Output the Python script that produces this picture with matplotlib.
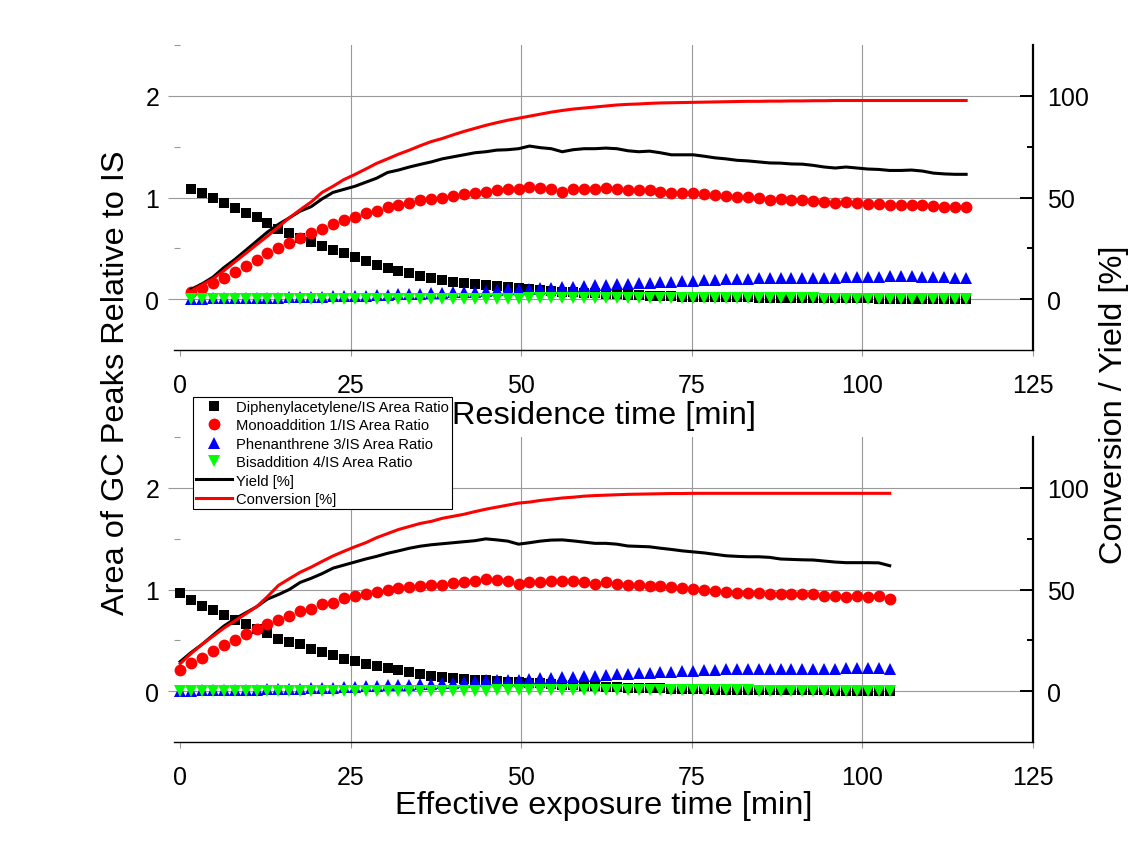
import matplotlib
matplotlib.use("Agg")
import matplotlib.pyplot as plt
from matplotlib.lines import Line2D
from matplotlib.ticker import FixedLocator

plt.rcParams['font.family'] = ['Liberation Sans', 'DejaVu Sans']

# ---------------- residence time series (top) ----------------
t_res = [1.6, 3.2, 4.8, 6.4, 8.0, 9.6, 11.2, 12.8,
         14.4, 16.0, 17.6, 19.2, 20.8, 22.4, 24.0, 25.6,
         27.2, 28.8, 30.4, 32.0, 33.6, 35.2, 36.8, 38.4,
         40.0, 41.6, 43.2, 44.8, 46.4, 48.0, 49.6, 51.2,
         52.8, 54.4, 56.0, 57.6, 59.2, 60.8, 62.4, 64.0,
         65.6, 67.2, 68.8, 70.4, 72.0, 73.6, 75.2, 76.8,
         78.4, 80.0, 81.6, 83.2, 84.8, 86.4, 88.0, 89.6,
         91.2, 92.8, 94.4, 96.0, 97.6, 99.2, 100.8, 102.4,
         104.0, 105.6, 107.2, 108.8, 110.4, 112.0, 113.6, 115.2]

diph_res = [1.08, 1.045, 1.00, 0.95, 0.90, 0.845, 0.805, 0.745,
            0.69, 0.65, 0.60, 0.565, 0.52, 0.48, 0.45, 0.41,
            0.38, 0.335, 0.31, 0.28, 0.255, 0.23, 0.21, 0.19,
            0.17, 0.155, 0.145, 0.135, 0.125, 0.115, 0.11, 0.10,
            0.092, 0.083, 0.073, 0.066, 0.059, 0.056, 0.053, 0.046,
            0.043, 0.04, 0.035, 0.033, 0.03, 0.026, 0.023, 0.023,
            0.02, 0.02, 0.017, 0.017, 0.015, 0.013, 0.012, 0.011,
            0.01, 0.01, 0.009, 0.008, 0.008, 0.007, 0.007, 0.006,
            0.006, 0.005, 0.005, 0.005, 0.004, 0.004, 0.004, 0.003]

mono_res = [0.07, 0.11, 0.16, 0.21, 0.27, 0.33, 0.39, 0.45,
            0.50, 0.555, 0.60, 0.655, 0.69, 0.735, 0.775, 0.81,
            0.845, 0.865, 0.91, 0.93, 0.95, 0.975, 0.985, 0.995,
            1.015, 1.03, 1.045, 1.053, 1.073, 1.083, 1.083, 1.099,
            1.092, 1.086, 1.059, 1.079, 1.086, 1.086, 1.092, 1.086,
            1.069, 1.069, 1.069, 1.059, 1.043, 1.049, 1.040, 1.036,
            1.023, 1.017, 1.007, 1.003, 0.993, 0.98, 0.983, 0.974,
            0.974, 0.964, 0.957, 0.947, 0.954, 0.947, 0.937, 0.937,
            0.924, 0.931, 0.931, 0.931, 0.914, 0.908, 0.904, 0.904]

phen_res = [0.005, 0.006, 0.007, 0.008, 0.01, 0.011, 0.012, 0.014,
            0.016, 0.018, 0.02, 0.022, 0.025, 0.028, 0.03, 0.033,
            0.036, 0.04, 0.043, 0.047, 0.05, 0.054, 0.058, 0.062,
            0.066, 0.07, 0.075, 0.085, 0.093, 0.097, 0.101, 0.104,
            0.105, 0.108, 0.117, 0.123, 0.13, 0.136, 0.14, 0.146,
            0.15, 0.156, 0.162, 0.164, 0.17, 0.174, 0.178, 0.186,
            0.19, 0.194, 0.197, 0.201, 0.204, 0.205, 0.205, 0.208,
            0.208, 0.208, 0.211, 0.211, 0.219, 0.217, 0.22, 0.218,
            0.228, 0.224, 0.223, 0.221, 0.221, 0.218, 0.211, 0.205]

bis_res = [0.0, 0.0, 0.0, 0.0, 0.0, 0.0, 0.0, 0.0,
           0.0, 0.0, 0.0, 0.0, 0.0, 0.0, 0.0, 0.0,
           0.0, 0.0, 0.0, 0.001, 0.001, 0.002, 0.002, 0.003,
           0.003, 0.004, 0.004, 0.005, 0.005, 0.006, 0.006, 0.007,
           0.007, 0.008, 0.008, 0.008, 0.009, 0.009, 0.009, 0.009,
           0.009, 0.009, 0.009, 0.009, 0.009, 0.009, 0.008, 0.008,
           0.008, 0.008, 0.008, 0.008, 0.007, 0.007, 0.007, 0.007,
           0.007, 0.007, 0.006, 0.006, 0.006, 0.006, 0.006, 0.006,
           0.005, 0.005, 0.005, 0.005, 0.005, 0.005, 0.005, 0.005]

yield_res = [4.8, 7.5, 10.8, 15.5, 19.5, 24.0, 28.5, 33.0,
             36.8, 40.0, 43.3, 45.5, 49.3, 52.5, 54.0, 55.5,
             57.5, 59.5, 62.3, 63.5, 65.0, 66.3, 67.5, 69.0,
             70.0, 71.0, 72.0, 72.5, 73.3, 73.5, 74.0, 75.3,
             74.5, 74.0, 72.5, 73.5, 74.0, 74.0, 74.3, 74.0,
             73.0, 72.5, 72.8, 72.0, 71.0, 71.0, 71.0, 70.3,
             69.5, 69.0, 68.3, 68.0, 67.5, 67.0, 66.9, 66.5,
             66.4, 65.8, 65.0, 64.5, 65.0, 64.5, 64.0, 63.8,
             63.3, 63.3, 63.5, 63.0, 62.0, 61.6, 61.4, 61.4]

conv_res = [4.0, 7.0, 10.0, 14.0, 18.3, 22.5, 26.8, 31.0,
            35.5, 40.0, 44.0, 47.8, 52.5, 55.5, 58.8, 61.3,
            64.0, 66.8, 69.0, 71.3, 73.3, 75.5, 77.5, 79.0,
            80.8, 82.5, 84.0, 85.5, 86.8, 88.0, 89.0, 90.0,
            91.0, 92.0, 92.8, 93.5, 94.0, 94.5, 95.0, 95.5,
            95.8, 96.0, 96.3, 96.5, 96.6, 96.7, 96.8, 96.9,
            97.0, 97.1, 97.2, 97.3, 97.3, 97.4, 97.4, 97.5,
            97.5, 97.6, 97.6, 97.7, 97.7, 97.7, 97.7, 97.7,
            97.7, 97.7, 97.7, 97.7, 97.7, 97.7, 97.7, 97.7]

# ---------------- effective exposure time series (bottom) ----------------
t_eff = [0.0, 1.6, 3.2, 4.8, 6.4, 8.0, 9.6, 11.2,
         12.8, 14.4, 16.0, 17.6, 19.2, 20.8, 22.4, 24.0,
         25.6, 27.2, 28.8, 30.4, 32.0, 33.6, 35.2, 36.8,
         38.4, 40.0, 41.6, 43.2, 44.8, 46.4, 48.0, 49.6,
         51.2, 52.8, 54.4, 56.0, 57.6, 59.2, 60.8, 62.4,
         64.0, 65.6, 67.2, 68.8, 70.4, 72.0, 73.6, 75.2,
         76.8, 78.4, 80.0, 81.6, 83.2, 84.8, 86.4, 88.0,
         89.6, 91.2, 92.8, 94.4, 96.0, 97.6, 99.2, 100.8,
         102.4, 104.0]

diph_eff = [0.97, 0.895, 0.84, 0.80, 0.75, 0.70, 0.66, 0.61,
            0.575, 0.51, 0.485, 0.46, 0.41, 0.385, 0.355, 0.32,
            0.30, 0.27, 0.245, 0.23, 0.205, 0.185, 0.17, 0.15,
            0.14, 0.125, 0.115, 0.11, 0.105, 0.10, 0.095, 0.089,
            0.082, 0.076, 0.07, 0.064, 0.058, 0.053, 0.048, 0.044,
            0.04, 0.036, 0.033, 0.03, 0.027, 0.024, 0.022, 0.02,
            0.018, 0.016, 0.015, 0.013, 0.012, 0.011, 0.01, 0.009,
            0.008, 0.008, 0.007, 0.007, 0.006, 0.006, 0.005, 0.005,
            0.005, 0.004]

mono_eff = [0.21, 0.28, 0.33, 0.40, 0.45, 0.50, 0.565, 0.61,
            0.658, 0.697, 0.74, 0.79, 0.81, 0.855, 0.87, 0.92,
            0.938, 0.951, 0.977, 1.0, 1.01, 1.024, 1.035, 1.049,
            1.049, 1.062, 1.076, 1.08, 1.102, 1.092, 1.086, 1.059,
            1.069, 1.076, 1.079, 1.086, 1.082, 1.069, 1.059, 1.069,
            1.056, 1.043, 1.043, 1.036, 1.033, 1.023, 1.01, 1.003,
            1.0, 0.984, 0.977, 0.97, 0.967, 0.967, 0.96, 0.951,
            0.951, 0.954, 0.951, 0.938, 0.938, 0.928, 0.934, 0.931,
            0.934, 0.911]

phen_eff = [0.005, 0.006, 0.007, 0.008, 0.01, 0.012, 0.014, 0.016,
            0.018, 0.02, 0.023, 0.026, 0.029, 0.032, 0.036, 0.04,
            0.044, 0.048, 0.052, 0.056, 0.06, 0.065, 0.07, 0.075,
            0.08, 0.085, 0.09, 0.1, 0.105, 0.105, 0.105, 0.105,
            0.122, 0.128, 0.132, 0.138, 0.141, 0.145, 0.148, 0.161,
            0.171, 0.171, 0.178, 0.181, 0.188, 0.188, 0.194, 0.197,
            0.207, 0.207, 0.214, 0.214, 0.22, 0.22, 0.214, 0.214,
            0.214, 0.22, 0.22, 0.22, 0.22, 0.23, 0.23, 0.23,
            0.23, 0.22]

bis_eff = [0.0, 0.0, 0.0, 0.0, 0.0, 0.0, 0.0, 0.0,
           0.0, 0.0, 0.0, 0.0, 0.0, 0.0, 0.0, 0.0,
           0.0, 0.001, 0.001, 0.002, 0.002, 0.003, 0.003, 0.004,
           0.004, 0.005, 0.005, 0.006, 0.006, 0.007, 0.007, 0.008,
           0.008, 0.008, 0.009, 0.009, 0.009, 0.009, 0.009, 0.009,
           0.009, 0.009, 0.009, 0.008, 0.008, 0.008, 0.008, 0.008,
           0.007, 0.007, 0.007, 0.007, 0.007, 0.006, 0.006, 0.006,
           0.006, 0.006, 0.005, 0.005, 0.005, 0.005, 0.005, 0.005,
           0.005, 0.005]

yield_eff = [14.5, 19.0, 23.0, 27.5, 32.0, 35.5, 38.5, 41.5,
             45.3, 47.5, 50.0, 53.5, 55.5, 57.8, 60.5, 62.0,
             63.5, 65.0, 66.3, 67.8, 69.0, 70.3, 71.3, 72.0,
             72.5, 73.0, 73.5, 74.0, 74.9, 74.4, 73.8, 72.3,
             73.0, 73.8, 74.3, 74.4, 73.9, 73.3, 72.7, 72.7,
             72.3, 71.4, 71.2, 71.0, 70.3, 69.7, 69.0, 68.5,
             68.0, 67.3, 66.6, 66.3, 66.1, 66.1, 65.8, 65.0,
             64.8, 64.6, 64.5, 64.0, 63.5, 63.2, 63.2, 63.2,
             63.1, 61.7]

conv_eff = [13.5, 18.5, 23.0, 27.0, 31.0, 34.5, 38.0, 41.5,
            46.5, 52.0, 55.3, 58.5, 61.0, 63.8, 66.5, 68.8,
            71.0, 73.0, 75.5, 77.5, 79.5, 81.0, 82.5, 83.5,
            85.0, 86.0, 87.0, 88.3, 89.5, 90.5, 91.5, 92.5,
            93.0, 93.8, 94.4, 95.0, 95.4, 95.9, 96.2, 96.4,
            96.6, 96.8, 96.9, 97.0, 97.1, 97.2, 97.2, 97.3,
            97.3, 97.3, 97.3, 97.3, 97.3, 97.3, 97.3, 97.3,
            97.3, 97.3, 97.3, 97.3, 97.3, 97.3, 97.3, 97.3,
            97.3, 97.3]

labels = ['Diphenylacetylene/IS Area Ratio', 'Monoaddition 1/IS Area Ratio',
          'Phenanthrene 3/IS Area Ratio', 'Bisaddition 4/IS Area Ratio',
          'Yield [%]', 'Conversion [%]']

GRID = '#999999'
W, H = 1135, 854

# marker styles shared by the plots and the legend
sq = dict(ls='none', marker='s', ms=7.5, mew=0, color='black')
ci = dict(ls='none', marker='o', ms=8.5, mew=0, color='red')
up = dict(ls='none', marker='^', ms=9, mew=0, color='blue')
dn = dict(ls='none', marker='v', ms=9, mew=0, color='#00ff00')

fig = plt.figure(figsize=(W / 100, H / 100), dpi=100)


def panel(rect, x, diph, mono, phen, bis, yld, conv, xlabel, lpad):
    ax = fig.add_axes(rect)
    ax.set_xlim(-0.9, 125)
    ax.set_ylim(-0.5, 2.5)
    ax.set_axisbelow(True)

    ax.plot(x, diph, **sq)
    ax.plot(x, mono, **ci)
    ax.plot(x, phen, **up)
    ax.plot(x, bis, **dn)

    ax2 = ax.twinx()
    ax2.set_ylim(-25, 125)
    ax2.plot(x, yld, color='black', lw=2.2)
    ax2.plot(x, conv, color='red', lw=2.2)

    for s in ['left', 'top', 'right']:
        ax.spines[s].set_visible(False)
    for s in ['left', 'top', 'bottom']:
        ax2.spines[s].set_visible(False)
    ax.spines['bottom'].set_linewidth(1.0)
    ax2.spines['right'].set_linewidth(1.6)

    ax.set_xticks([0, 25, 50, 75, 100, 125])
    ax.set_yticks([0, 1, 2])
    ax.yaxis.set_minor_locator(FixedLocator([0.5, 1.5, 2.5]))
    ax.grid(True, which='major', color=GRID, lw=0.8)
    ax.get_xgridlines()[0].set_visible(False)

    ax.tick_params(axis='x', direction='out', length=4, width=0.8,
                   color=GRID, labelsize=18, pad=12.5)
    ax.tick_params(axis='y', which='major', direction='out', length=4.5,
                   width=0.8, color=GRID, labelsize=18, pad=6)
    ax.tick_params(axis='y', which='minor', direction='in', length=4.5,
                   width=0.8, color=GRID)

    ax2.set_yticks([0, 50, 100])
    ax2.yaxis.set_minor_locator(FixedLocator([25, 75]))
    ax2.tick_params(axis='y', which='major', direction='in', length=9.5,
                    width=1.4, labelsize=18, pad=10)
    ax2.tick_params(axis='y', which='minor', direction='in', length=4.5,
                    width=1.4)

    ax.set_xlabel(xlabel, fontsize=23.4, labelpad=lpad)
    return ax


ax_top = panel([174 / W, 1 - 351 / H, 859 / W, 305 / H],
               t_res, diph_res, mono_res, phen_res, bis_res,
               yield_res, conv_res, 'Residence time [min]', 2.5)
ax_bot = panel([174 / W, 1 - 743 / H, 859 / W, 305 / H],
               t_eff, diph_eff, mono_eff, phen_eff, bis_eff,
               yield_eff, conv_eff, 'Effective exposure time [min]', 0.5)

fig.text(116 / W, 1 - 383 / H, 'Area of GC Peaks Relative to IS',
         rotation=90, fontsize=23.4, ha='center', va='center')
fig.text(1114 / W, 1 - 405 / H, 'Conversion / Yield [%]',
         rotation=90, fontsize=23.4, ha='center', va='center')

handles = [Line2D([], [], **sq), Line2D([], [], **ci),
           Line2D([], [], **up), Line2D([], [], **dn),
           Line2D([], [], color='black', lw=2.2),
           Line2D([], [], color='red', lw=2.2)]
leg = fig.legend(handles, labels, loc='upper left',
                 bbox_to_anchor=(193 / W, 1 - 398 / H),
                 bbox_transform=fig.transFigure, fontsize=10.6,
                 frameon=True, fancybox=False, edgecolor='black',
                 framealpha=1, borderpad=0.2, labelspacing=0.3,
                 handlelength=2.45, handletextpad=0.25, borderaxespad=0,
                 numpoints=1)
leg.get_frame().set_linewidth(0.8)

fig.savefig('out.png', dpi=100)
